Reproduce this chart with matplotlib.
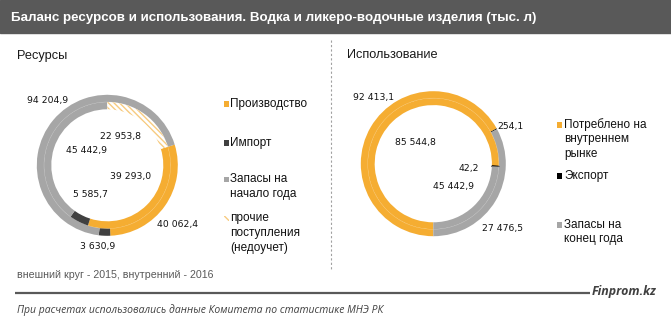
import matplotlib
matplotlib.use("Agg")
import matplotlib.pyplot as plt
from matplotlib.patches import Rectangle, Circle

# ---------------- data ----------------
res_categories = ["Производство", "Импорт", "Запасы на\nначало года", "прочие\nпоступления\n(недоучет)"]
res_2015 = [40062.4, 3630.9, 94204.9]           # outer ring
res_2016 = [39293.0, 5585.7, 45442.9, 22953.8]  # inner ring

use_categories = ["Потреблено на\nвнутреннем\nрынке", "Экспорт", "Запасы на\nконец года"]
use_2015 = [92413.1, 254.1, 45442.9]   # outer ring
use_2016 = [85544.8, 42.2, 27476.5]    # inner ring

# data label texts as shown in the picture
res_labels = ["94 204,9", "22 953,8", "45 442,9", "39 293,0", "5 585,7", "40 062,4", "3 630,9"]
use_labels = ["92 413,1", "254,1", "85 544,8", "42,2", "45 442,9", "27 476,5"]

title = "Баланс ресурсов и использования. Водка и ликеро-водочные изделия (тыс. л)"
note = "внешний круг - 2015, внутренний - 2016"
source = "При расчетах использовались данные Комитета по статистике МНЭ РК"
brand = "Finprom.kz"

# ---------------- style ----------------
W, H = 671, 323
ORANGE = "#F5AD32"
DARK = "#404040"
GRAY = "#A6A6A6"
HATCH = "#F7CB80"
BLACK = "#000000"

plt.rcParams["hatch.linewidth"] = 1.0
fig = plt.figure(figsize=(W / 100, H / 100), dpi=100)
fig.patch.set_facecolor("white")

ov = fig.add_axes([0, 0, 1, 1])
ov.set_xlim(0, W)
ov.set_ylim(H, 0)
ov.axis("off")
ov.set_zorder(5)
ov.patch.set_alpha(0)

renderer = fig.canvas.get_renderer()


def fit(t, width):
    bb = t.get_window_extent(renderer=renderer)
    t.set_fontsize(t.get_fontsize() * width / bb.width)


# title band
ov.add_patch(Rectangle((0, 0), W, 33, color="#595959", zorder=0))
t = ov.text(10.7, 17.5, title, color="white", fontsize=10, fontweight="bold",
            family="Liberation Sans", va="center", ha="left")
fit(t, 526)

# subtitles
ov.text(17, 55.5, "Ресурсы", fontsize=9.2, family="Liberation Sans", va="center", ha="left", color="#1a1a1a")
ov.text(347, 55.5, "Использование", fontsize=9.2, family="Liberation Sans", va="center", ha="left", color="#1a1a1a")

# separator
ov.plot([331, 331], [40, 270], color="#A0A0A0", lw=0.8, ls=(0, (2, 2)))


def donut(cx, cy, R, rdiv, rin, outer, inner, colors_out, colors_in, start):
    S = 80
    ax = fig.add_axes([(cx - S) / W, 1 - (cy + S) / H, 2 * S / W, 2 * S / H])
    wo, _ = ax.pie(outer, radius=R, colors=colors_out, startangle=start, counterclock=False,
                   wedgeprops=dict(width=R - rdiv + 0.4, linewidth=0))
    wi, _ = ax.pie(inner, radius=rdiv, colors=colors_in, startangle=start, counterclock=False,
                   wedgeprops=dict(width=rdiv - rin, linewidth=0))
    ax.add_patch(Circle((0, 0), rdiv, fill=False, ec="white", lw=0.25, alpha=0.45))
    ax.set_xlim(-S, S)
    ax.set_ylim(-S, S)
    ax.set_aspect("equal")
    ax.axis("off")
    return ax, wo, wi


# left donut
start_left = 90 - 360 * res_2016[3] / sum(res_2016)
axl, wo, wi = donut(107.3, 165.3, 70.5, 63.3, 56.0, res_2015, res_2016,
                    [ORANGE, DARK, GRAY], [ORANGE, DARK, GRAY, "white"], start_left)
wi[3].set_edgecolor(HATCH)
wi[3].set_hatch("\\\\\\\\\\\\")
wi[3].set_linewidth(0)

# right donut
axr, wo2, wi2 = donut(433.3, 163.7, 72.5, 65.6, 58.6, use_2015, use_2016,
                      [ORANGE, BLACK, GRAY], [ORANGE, BLACK, GRAY], -90)
wi2[1].set_edgecolor(BLACK)
wi2[1].set_linewidth(0.9)

# data labels
lab_font = dict(fontsize=6.7, family="DejaVu Sans", ha="center", va="center", color="#111111")
res_pos = [(47.5, 100), (121, 137), (86, 150), (131, 176), (90, 194.5), (177.5, 224.5), (97.5, 246)]
for s, (x, y) in zip(res_labels, res_pos):
    ov.text(x, y, s, **lab_font)
use_pos = [(374, 97.5), (510.5, 126), (415, 142.5), (469, 168), (453.7, 187), (503, 229)]
for s, (x, y) in zip(use_labels, use_pos):
    ov.text(x, y, s, **lab_font)

# legends
leg_font = dict(fontsize=8.5, family="Liberation Sans", ha="left", va="center", color="#111111")
res_leg_y = [104, 143, 179.5, 218.5]
res_leg_col = [ORANGE, DARK, GRAY, None]
for cat, y, c in zip(res_categories, res_leg_y, res_leg_col):
    if c is None:
        ov.add_patch(Rectangle((224, y - 2.6), 5, 5.2, facecolor="white", edgecolor=HATCH,
                               hatch="\\\\\\\\", lw=0))
    else:
        ov.add_patch(Rectangle((224, y - 2.6), 5, 5.2, color=c, lw=0))
    for k, ln in enumerate(cat.split("\n")):
        ov.text(230, y + k * 14.5, ln, **leg_font)

use_leg_y = [125, 176, 225]
use_leg_col = [ORANGE, BLACK, GRAY]
for cat, y, c in zip(use_categories, use_leg_y, use_leg_col):
    ov.add_patch(Rectangle((556.5, y - 2.6), 5, 5.2, color=c, lw=0))
    for k, ln in enumerate(cat.split("\n")):
        ov.text(564, y + k * 14.3, ln, **leg_font)

# note
t = ov.text(16.7, 275, note, fontsize=7.5, family="Liberation Sans", color="#595959",
            ha="left", va="center")
fit(t, 196.5)

# bottom line and brand
ov.plot([15, 590], [293.3, 293.3], color="#595959", lw=1.6, solid_capstyle="butt")
t = ov.text(592, 291.5, brand, fontsize=10, fontweight="bold", style="italic",
            family="Open Sans", color="#404040", ha="left", va="center")
fit(t, 65)
t = ov.text(16.7, 310, source, fontsize=7.5, style="italic", family="Open Sans",
            color="#404040", ha="left", va="center")
fit(t, 366)

fig.savefig("out.png", dpi=100, facecolor="white")
